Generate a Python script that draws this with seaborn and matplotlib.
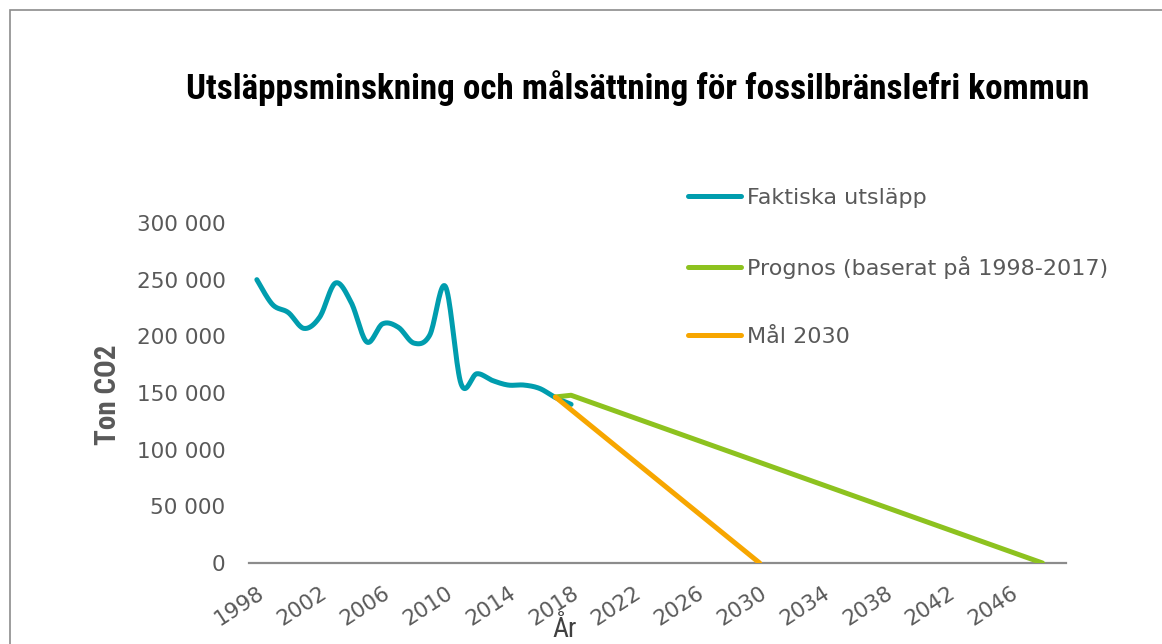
import matplotlib
matplotlib.use("Agg")
import matplotlib.pyplot as plt
from matplotlib.patches import Rectangle
from matplotlib.ticker import FuncFormatter
import numpy as np
import pandas as pd
import seaborn as sns

# data
actual_years = list(range(1998, 2019))
actual_values = [250000, 228000, 221000, 207000, 217000, 247000, 230000, 195000,
                 211000, 208000, 194000, 201000, 244000, 158000, 167000, 161000,
                 157000, 157000, 154000, 146000, 140000]
forecast_years = [2017, 2018, 2048]
forecast_values = [146500, 148000, 0]
goal_years = [2017, 2030]
goal_values = [146500, 0]

labels = ["Faktiska utsläpp", "Prognos (baserat på 1998-2017)", "Mål 2030"]
colors = ["#009DAE", "#8DC21F", "#F7A600"]
x_ticks = list(range(1998, 2047, 4))
y_ticks = list(range(0, 300001, 50000))

GREY = "#595959"


def smooth(xs, ys, steps=20):
    # Excel style smoothed line (Catmull-Rom as cubic bezier)
    pts = np.column_stack([xs, ys]).astype(float)
    ext = np.vstack([pts[0], pts, pts[-1]])
    out = []
    for i in range(1, len(ext) - 2):
        p0, p1, p2, p3 = ext[i - 1], ext[i], ext[i + 1], ext[i + 2]
        b1 = p1 + (p2 - p0) / 6
        b2 = p2 - (p3 - p1) / 6
        t = np.linspace(0, 1, steps)[:, None]
        seg = ((1 - t) ** 3) * p1 + 3 * ((1 - t) ** 2) * t * b1 + 3 * (1 - t) * t ** 2 * b2 + t ** 3 * p2
        out.append(seg if i == 1 else seg[1:])
    arr = np.vstack(out)
    return arr[:, 0], arr[:, 1]


sx, sy = smooth(actual_years, actual_values)
df = pd.concat([
    pd.DataFrame({"År": sx, "Ton CO2": sy, "serie": labels[0]}),
    pd.DataFrame({"År": forecast_years, "Ton CO2": forecast_values, "serie": labels[1]}),
    pd.DataFrame({"År": goal_years, "Ton CO2": goal_values, "serie": labels[2]}),
], ignore_index=True)

sns.set_style("white")
plt.rcParams["font.family"] = ["DejaVu Sans"]
cond = ["Roboto Condensed", "Barlow Semi Condensed", "PT Sans Narrow", "Archivo Narrow", "DejaVu Sans"]

fig = plt.figure(figsize=(11.62, 6.44), dpi=100)
ax = fig.add_axes([249 / 1162, 81 / 644, 817 / 1162, 340 / 644])

sns.lineplot(data=df, x="År", y="Ton CO2", hue="serie", hue_order=labels,
             palette=colors, sort=False, estimator=None, linewidth=3.6,
             solid_capstyle="round", ax=ax)

ax.set_xlim(1997.5, 2049.5)
ax.set_ylim(0, 300000)
ax.set_xticks(x_ticks)
ax.set_yticks(y_ticks)
ax.yaxis.set_major_formatter(FuncFormatter(lambda v, p: f"{v:,.0f}".replace(",", " ")))
ax.tick_params(axis="y", length=0, pad=17, labelsize=15.5, labelcolor=GREY)
ax.tick_params(axis="x", length=0, pad=14, labelsize=15.5, labelcolor=GREY)
for lab in ax.get_xticklabels():
    lab.set_rotation(33)
    lab.set_ha("right")
    lab.set_rotation_mode("anchor")

for side in ["top", "right", "left"]:
    ax.spines[side].set_visible(False)
ax.spines["bottom"].set_color("#8C8C8C")
ax.spines["bottom"].set_linewidth(1.6)
ax.spines["bottom"].set_zorder(0)
ax.set_xlabel("")
ax.set_ylabel("")

handles, _ = ax.get_legend_handles_labels()
leg = ax.legend(handles, labels, loc="upper left", bbox_to_anchor=(688 / 1162, 1 - 188 / 644),
                bbox_transform=fig.transFigure, frameon=False, fontsize=16,
                handlelength=2.4, handletextpad=0.25, labelspacing=2.15,
                borderpad=0, borderaxespad=0)
for txt in leg.get_texts():
    txt.set_color(GREY)
for h in leg.get_lines():
    h.set_linewidth(3.6)

fig.text(638 / 1162, 1 - 88 / 644, "Utsläppsminskning och målsättning för fossilbränslefri kommun",
         ha="center", va="center", fontsize=25.3, fontweight="bold", family=cond, color="black")
fig.text(108 / 1162, 1 - 395 / 644, "Ton CO2", rotation=90, ha="center", va="center",
         fontsize=21, fontweight="bold", family=cond, color=GREY)
fig.text(565 / 1162, 1 / 644, "År", ha="center", va="bottom", fontsize=20, color="#404040",
         family=cond)

fig.patches.append(Rectangle((10 / 1162, -0.2), 1.2, 1.2 - 10 / 644, transform=fig.transFigure,
                             fill=False, edgecolor="#8C8C8C", linewidth=1.2))

fig.savefig("out.png", dpi=100)
